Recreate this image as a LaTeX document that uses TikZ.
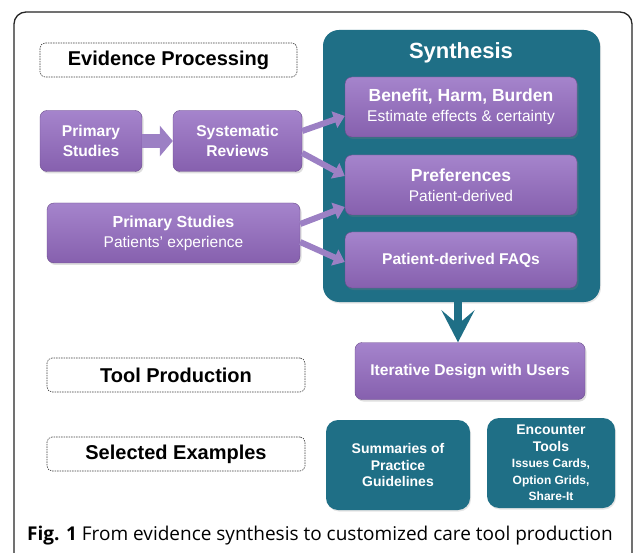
\documentclass[tikz,border=0pt]{standalone}
\usepackage{fontspec}
\setmainfont{Liberation Sans}
\newfontfamily\capfont{Open Sans}
\usetikzlibrary{arrows.meta,shadows}
\definecolor{teal1}{HTML}{1F6F86}
\definecolor{ptop}{HTML}{A584CC}
\definecolor{pbot}{HTML}{8660AE}
\definecolor{parrow}{HTML}{9C80C4}
\newcommand\subtxt[1]{{\mdseries\fontsize{15.5}{18}\selectfont #1}}
\newcommand\bigbold{\fontsize{17.5}{20}\selectfont}
\tikzset{
  pbox/.style={rounded corners=7pt, top color=ptop, bottom color=pbot, draw=pbot!80!black, line width=0.4pt,
    text=white, font=\bfseries\fontsize{15.6}{19.5}\selectfont, align=center, inner sep=2pt,
    drop shadow={opacity=0.25, shadow xshift=1.5pt, shadow yshift=-2pt}},
  tbox/.style={rounded corners=12pt, fill=teal1, text=white, font=\bfseries\fontsize{14}{16.5}\selectfont,
    align=center, inner sep=2pt, drop shadow={opacity=0.2, shadow xshift=1pt, shadow yshift=-1.5pt}},
  dbox/.style={rounded corners=5pt, draw=black!75, dashed, dash pattern=on 1.5pt off 1pt, line width=0.6pt,
    fill=white, font=\bfseries\fontsize{20}{22}\selectfont, minimum width=257pt, minimum height=34pt},
  parr/.style={draw=parrow, line width=6pt, -{Triangle[length=11pt,width=17pt]}},
  tarr/.style={draw=teal1, line width=8pt, -{Stealth[length=32pt,width=33pt,inset=14pt]}}
}
\begin{document}
\begin{tikzpicture}[x=1pt,y=-1pt]
\useasboundingbox (0,0) rectangle (634,553);
\fill[white] (0,0) rectangle (634,553);
\draw[line width=1.3pt, black!85, rounded corners=12pt] (14,560) -- (14,12) -- (632,12) -- (632,560);

\node[dbox] (ep) at (168.5,60) {Evidence Processing};
\node[dbox, minimum width=258pt] (tp) at (176,375) {Tool Production};
\node[dbox, minimum width=258pt] (se) at (176,454) {Selected Examples};

\node[tbox, rounded corners=16pt, minimum width=277pt, minimum height=272pt] (syn) at (461.5,166) {};
\node[text=white, font=\bfseries\fontsize{22}{24}\selectfont] (syt) at (461,53) {Synthesis};

\node[pbox, minimum width=102pt, minimum height=61pt] (ps) at (91,141) {Primary\\Studies};
\node[pbox, minimum width=129pt, minimum height=61pt] (sr) at (237.5,141) {Systematic\\Reviews};
\node[pbox, minimum width=253pt, minimum height=60pt, font=\bfseries\fontsize{16}{20}\selectfont] (pp) at (173.5,233) {Primary Studies\\\subtxt{Patients' experience}};

\node[pbox, minimum width=232pt, minimum height=60pt] (ben) at (461,107) {\bigbold Benefit, Harm, Burden\\\subtxt{Estimate effects \& certainty}};
\node[pbox, minimum width=232pt, minimum height=60pt] (pref) at (461,185) {\bigbold Preferences\\\subtxt{Patient-derived}};
\node[pbox, minimum width=232pt, minimum height=56pt] (faq) at (461,260) {Patient-derived FAQs};

\node[pbox, minimum width=230pt, minimum height=57pt] (iter) at (470,371) {Iterative Design with Users};

\node[tbox, minimum width=144pt, minimum height=90pt] (sum) at (398,465) {Summaries of\\Practice\\Guidelines};
\node[tbox, minimum width=128pt, minimum height=90pt] (enc) at (551,463) {{\fontsize{14}{16}\selectfont Encounter}\\{\fontsize{14}{16}\selectfont Tools}\\{\fontsize{12}{13.5}\selectfont Issues Cards,}\\{\fontsize{12}{13.5}\selectfont Option Grids,}\\{\fontsize{12}{13.5}\selectfont Share-It}};

% arrows
\draw[parr, line width=14pt, -{Triangle[length=13pt,width=30pt]}] (ps.east) -- (sr.west);
\draw[parr] (sr.east |- 0,131) -- (ben.west |- 0,116);
\draw[parr] (sr.east |- 0,153) -- (pref.west |- 0,176);
\draw[parr] (pp.east |- 0,224) -- (pref.west |- 0,207);
\draw[parr] (pp.east |- 0,242) -- (faq.west |- 0,262);
\draw[tarr] (syn.south -| 458,0) -- (iter.north -| 458,0);

\node[anchor=west, font=\capfont\fontsize{19}{21}\selectfont, inner sep=0pt] (cap) at (27,536) {\textbf{Fig. 1} From evidence synthesis to customized care tool production};
\end{tikzpicture}
\end{document}
